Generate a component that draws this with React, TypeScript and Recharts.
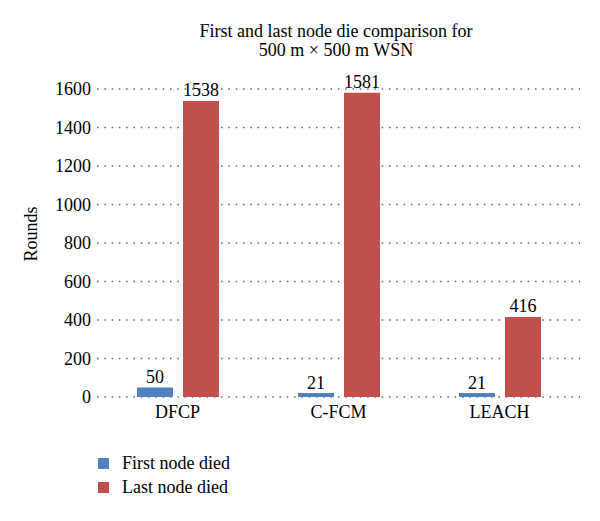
import { BarChart, Bar, XAxis, YAxis, CartesianGrid, Legend, LabelList } from 'recharts'

const categories = ['DFCP', 'C-FCM', 'LEACH']
const firstNodeDied = [50, 21, 21]
const lastNodeDied = [1538, 1581, 416]
const yTicks = [0, 200, 400, 600, 800, 1000, 1200, 1400, 1600]
const seriesNames = ['First node died', 'Last node died']
const seriesColors = ['#4f81bd', '#c0504d']
const titleLines = ['First and last node die comparison for', '500 m × 500 m WSN']

const FONT = '"Liberation Serif", "DejaVu Serif", serif'

const data = categories.map((name, i) => ({
  name,
  first: firstNodeDied[i],
  last: lastNodeDied[i],
}))

const renderLegend = () => (
  <div style={{ height: 48, fontFamily: FONT, fontSize: 18, color: '#000' }}>
    {seriesNames.map((n, i) => (
      <div key={n} style={{ display: 'flex', alignItems: 'center', height: 24 }}>
        <span style={{ width: 11, height: 11, background: seriesColors[i], marginRight: 13 }} />
        <span>{n}</span>
      </div>
    ))}
  </div>
)

export default function App() {
  return (
    <div style={{ position: 'absolute', left: 0, top: 0, width: 600, height: 521, background: '#fff' }}>
      {titleLines.map((t, i) => (
        <div
          key={t}
          style={{
            position: 'absolute',
            left: 136,
            width: 400,
            top: 22 + i * 19,
            height: 19,
            textAlign: 'center',
            fontFamily: FONT,
            fontSize: 18,
            lineHeight: '19px',
            color: '#000',
          }}
        >
          {t}
        </div>
      ))}
      <BarChart
        width={600}
        height={521}
        data={data}
        margin={{ top: 89, right: 20, left: 0, bottom: 46 }}
        barSize={36}
        barGap={10}
      >
        <CartesianGrid vertical={false} stroke="#666" strokeWidth={1.5} strokeDasharray="1.5 5.8" />
        <XAxis
          dataKey="name"
          axisLine={false}
          tickLine={false}
          height={30}
          tick={{ fill: '#000', fontSize: 18, fontFamily: FONT }}
        />
        <YAxis
          width={97}
          domain={[0, 1600]}
          ticks={yTicks}
          axisLine={false}
          tickLine={false}
          tickMargin={0}
          tick={{ fill: '#000', fontSize: 18, fontFamily: FONT }}
          label={{
            value: 'Rounds',
            content: ({ viewBox }: any) => {
              const cx = 31
              const cy = viewBox.y + viewBox.height / 2 - 9
              return (
                <text
                  x={cx}
                  y={cy}
                  transform={`rotate(-90, ${cx}, ${cy})`}
                  textAnchor="middle"
                  dominantBaseline="central"
                  fill="#000"
                  fontSize={18}
                  fontFamily={FONT}
                >
                  Rounds
                </text>
              )
            },
          }}
        />
        <Legend
          verticalAlign="bottom"
          content={renderLegend}
          wrapperStyle={{ left: 98, top: 451, width: 250 }}
        />
        <Bar dataKey="first" name={seriesNames[0]} fill={seriesColors[0]} isAnimationActive={false}>
          <LabelList dataKey="first" position="top" offset={4} fill="#000" fontSize={18} fontFamily={FONT} />
        </Bar>
        <Bar dataKey="last" name={seriesNames[1]} fill={seriesColors[1]} isAnimationActive={false}>
          <LabelList dataKey="last" position="top" offset={5} fill="#000" fontSize={18} fontFamily={FONT} />
        </Bar>
      </BarChart>
    </div>
  )
}
